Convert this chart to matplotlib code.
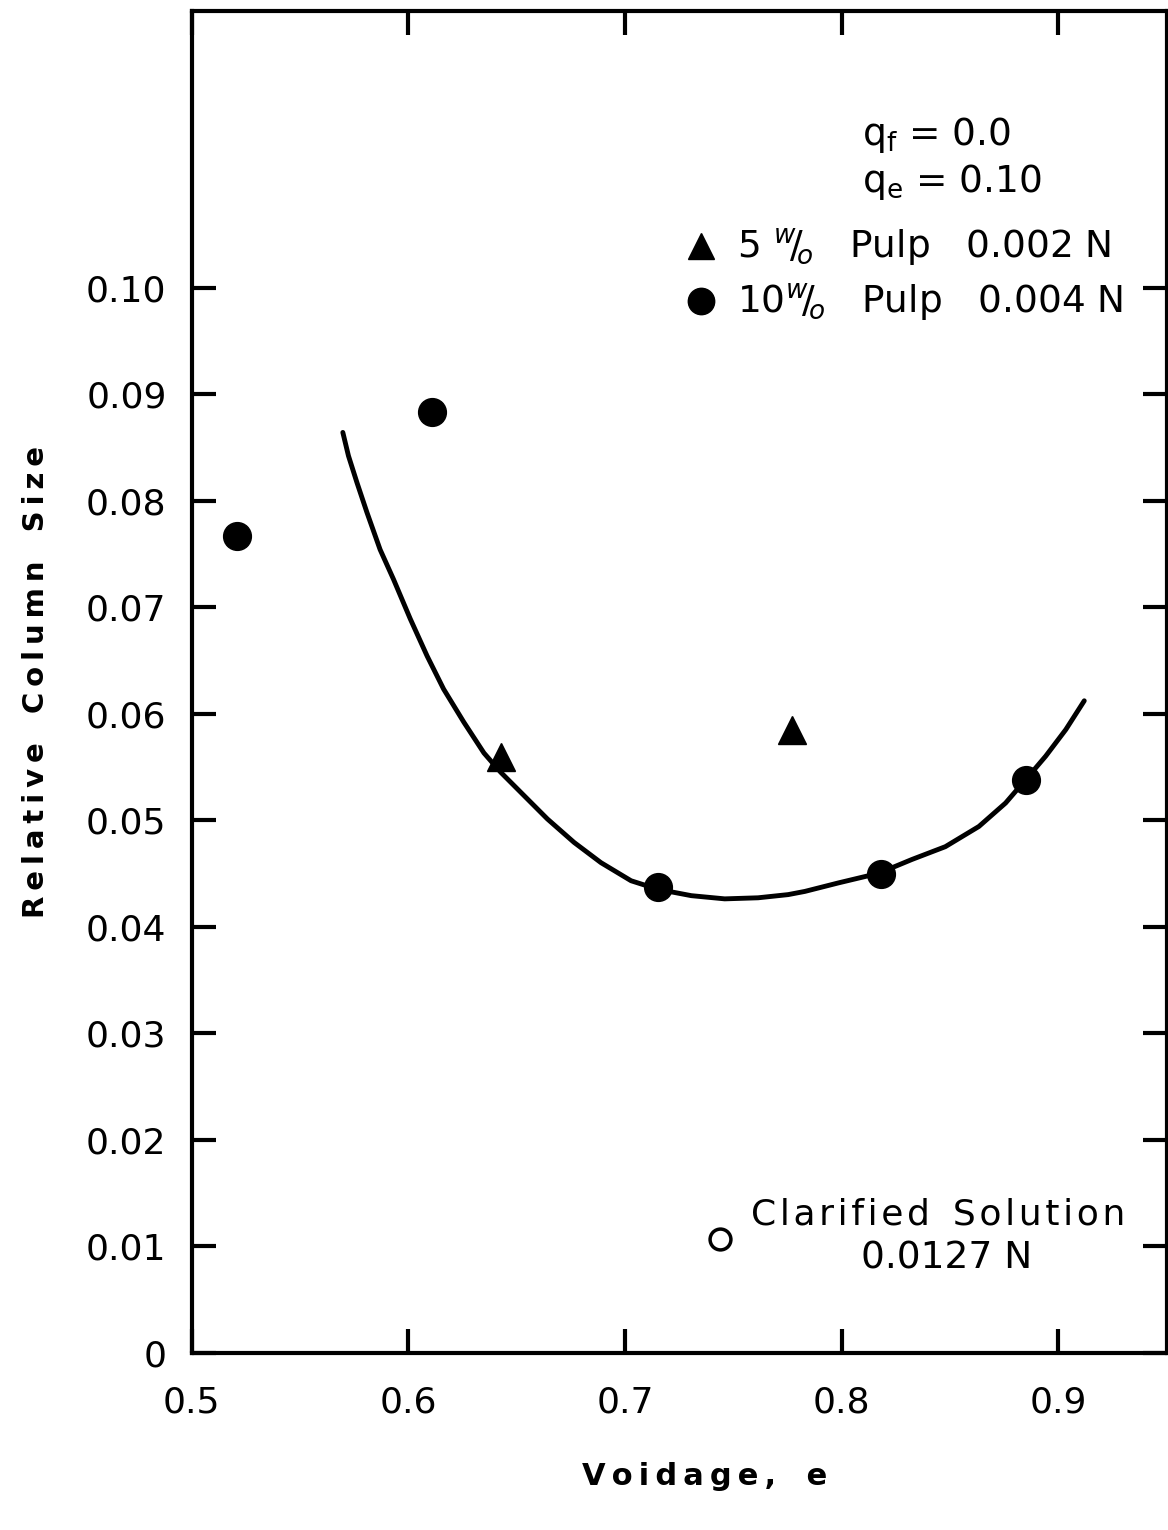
import numpy as np
import matplotlib.pyplot as plt

# Data
pulp10_x = [0.521, 0.611, 0.715, 0.818, 0.885]
pulp10_y = [0.0767, 0.0883, 0.0437, 0.0449, 0.0538]

pulp5_x = [0.643, 0.777]
pulp5_y = [0.0559, 0.0585]

clar_x = [0.744]
clar_y = [0.0107]

# hand-drawn fitted curve, points traced along it
curve_x = [0.5698, 0.5724, 0.5763, 0.5809, 0.5870, 0.5932, 0.6009, 0.6087,
           0.6163, 0.6256, 0.6349, 0.6426, 0.6534, 0.6642, 0.6765, 0.6889,
           0.7028, 0.7151, 0.7306, 0.7460, 0.7614, 0.7753, 0.7830, 0.7985,
           0.8170, 0.8324, 0.8478, 0.8633, 0.8756, 0.8849, 0.8941, 0.9034,
           0.9119]
curve_y = [0.0864, 0.0842, 0.0817, 0.0789, 0.0754, 0.0726, 0.0689, 0.0654,
           0.0623, 0.0592, 0.0563, 0.0545, 0.0523, 0.0501, 0.0479, 0.0460,
           0.0443, 0.0435, 0.0429, 0.0426, 0.0427, 0.0430, 0.0433, 0.0441,
           0.0450, 0.0463, 0.0475, 0.0494, 0.0516, 0.0538, 0.0560, 0.0585,
           0.0612]

xticks = [0.5, 0.6, 0.7, 0.8, 0.9]
yticks = [0, 0.01, 0.02, 0.03, 0.04, 0.05, 0.06, 0.07, 0.08, 0.09, 0.10]
ytick_labels = ['0', '0.01', '0.02', '0.03', '0.04', '0.05', '0.06', '0.07',
                '0.08', '0.09', '0.10']

plt.rcParams['font.family'] = ['DejaVu Sans']

def spaced(s, gap='\u2003', sep='\u2009'):
    # letter-spaced lettering like the original stencil text
    return gap.join(sep.join(w) for w in s.split(' '))

fig = plt.figure(figsize=(11.68, 15.30), dpi=100)
ax = fig.add_axes([0.164, 0.116, 0.835, 0.877])

ax.plot(curve_x, curve_y, color='black', linewidth=3.5,
        solid_capstyle='round', solid_joinstyle='round')
ax.plot(pulp10_x, pulp10_y, 'o', color='black', markersize=20, linestyle='none',
        label=r'10$^{w}\!/\!_{o}$   Pulp   0.004 N')
ax.plot(pulp5_x, pulp5_y, '^', color='black', markersize=20, linestyle='none',
        label=r'5 $^{w}\!/\!_{o}$   Pulp   0.002 N')
ax.plot(clar_x, clar_y, 'o', markerfacecolor='white', markeredgecolor='black',
        markeredgewidth=2.5, markersize=15, linestyle='none')

ax.set_xlim(0.5, 0.95)
ax.set_ylim(0, 0.126)

ax.set_xticks(xticks)
ax.set_yticks(yticks)
ax.set_yticklabels(ytick_labels)

for s in ['top', 'bottom', 'left', 'right']:
    ax.spines[s].set_linewidth(3)
    ax.spines[s].set_color('black')

ax.tick_params(axis='both', direction='in', length=17, width=3, labelsize=26,
               top=True, right=True)
ax.tick_params(axis='x', pad=24)
ax.tick_params(axis='y', pad=18)

ax.set_xlabel(spaced('Voidage, e'), fontsize=22, fontweight='bold', labelpad=30)
ax.xaxis.label.set_x(0.526)
ax.set_ylabel(spaced('Relative Column Size'), fontsize=21,
              fontweight='bold', labelpad=26)

# annotation block top right
ax.text(0.687, 0.907, r'q$_{\mathregular{f}}$ = 0.0', transform=ax.transAxes,
        fontsize=27, va='center', ha='left')
ax.text(0.687, 0.872, r'q$_{\mathregular{e}}$ = 0.10', transform=ax.transAxes,
        fontsize=27, va='center', ha='left')

handles, labels = ax.get_legend_handles_labels()
leg = ax.legend(handles[::-1], labels[::-1], loc='upper left',
                bbox_to_anchor=(0.49, 0.85), frameon=False, fontsize=27,
                handletextpad=0.5, labelspacing=0.35, handlelength=0.9,
                markerscale=0.95, borderaxespad=0)

ax.text(0.574, 0.1025, spaced('Clarified Solution', gap='  ', sep='\u200a'),
        transform=ax.transAxes, fontsize=26, va='center', ha='left')
ax.text(0.774, 0.0704, '0.0127 N', transform=ax.transAxes,
        fontsize=27, va='center', ha='center')

plt.savefig('out.png', dpi=100)
